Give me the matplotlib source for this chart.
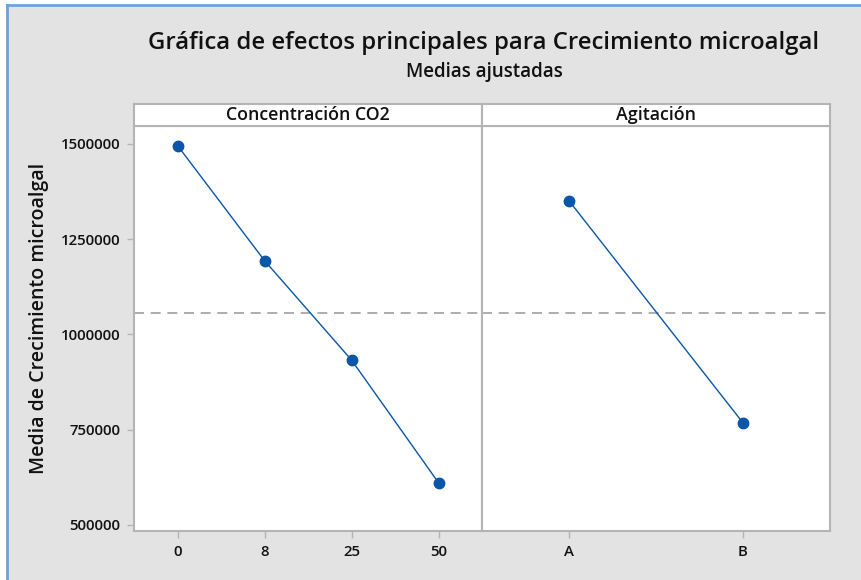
import matplotlib.pyplot as plt
from matplotlib.lines import Line2D
from matplotlib.patches import Rectangle

plt.rcParams['font.family'] = ['Open Sans', 'DejaVu Sans']

# data (fitted means)
co2_levels = ["0", "8", "25", "50"]
co2_means = [1496000, 1194000, 933000, 611000]
agit_levels = ["A", "B"]
agit_means = [1351000, 768000]
grand_mean = 1056000

yticks = [500000, 750000, 1000000, 1250000, 1500000]
ylim = (485000, 1548000)

title = "Gráfica de efectos principales para Crecimiento microalgal"
subtitle = "Medias ajustadas"
ylabel = "Media de Crecimiento microalgal"
panel_titles = ["Concentración CO2", "Agitación"]

blue = "#0a56a8"
spine_col = "#b4b4b4"
bg = "#e3e3e3"

W, H = 861, 580
fig = plt.figure(figsize=(W / 100, H / 100), dpi=100, facecolor="white")

# gray background with blue border on left and top
fig.patches.append(Rectangle((7 / W, 0), 1 - 7 / W, 1 - 5 / H, transform=fig.transFigure,
                             facecolor=bg, edgecolor="none", zorder=-10))
fig.lines.append(Line2D([7 / W, 7 / W], [0, 1 - 5 / H], transform=fig.transFigure,
                        color="#6fa3d8", lw=2, zorder=-5))
fig.lines.append(Line2D([7 / W, 1], [1 - 5 / H, 1 - 5 / H], transform=fig.transFigure,
                        color="#6fa3d8", lw=2, zorder=-5))

fig.text(484 / W, 1 - 43 / H, title, ha="center", va="center", fontsize=17.2,
         fontweight="semibold", color="#111111")
fig.text(484 / W, 1 - 72 / H, subtitle, ha="center", va="center", fontsize=13.5,
         fontweight="semibold", color="#111111")

left = 134 / W
pw = 348 / W
bottom = (H - 530.7) / H
ph = (530.7 - 125.7) / H
strip_h = 21.7 / H

panels = [(co2_levels, co2_means), (agit_levels, agit_means)]
for i, (levels, means) in enumerate(panels):
    x0 = left + i * pw
    ax = fig.add_axes([x0, bottom, pw, ph])
    ax.set_facecolor("white")
    pos = list(range(len(levels)))
    ax.plot(pos, means, color=blue, lw=1, marker="o", markersize=7.5,
            markerfacecolor=blue, markeredgecolor=blue)
    ax.axhline(grand_mean, color="#a0a0a0", lw=1.2, ls=(0, (6, 4)), zorder=0)
    ax.set_xlim(-0.5, len(levels) - 0.5)
    ax.set_ylim(*ylim)
    ax.set_xticks(pos)
    ax.set_xticklabels(levels)
    for s in ax.spines.values():
        s.set_color(spine_col)
        s.set_linewidth(1.5)
    ax.tick_params(axis="both", colors=spine_col, labelcolor="#111111", length=5,
                   width=1, labelsize=10.8, pad=5)
    for lab in ax.get_xticklabels():
        lab.set_fontweight("semibold")
    if i == 0:
        ax.set_yticks(yticks)
        ax.set_yticklabels([str(v) for v in yticks])
        for lab in ax.get_yticklabels():
            lab.set_fontweight("semibold")
        ax.set_ylabel(ylabel, fontsize=14, fontweight="semibold", color="#111111")
        ax.yaxis.set_label_coords(-0.245, 0.525)
    else:
        ax.set_yticks([])

    # header strip
    sax = fig.add_axes([x0, bottom + ph, pw, strip_h])
    sax.set_facecolor("white")
    sax.set_xticks([])
    sax.set_yticks([])
    for s in sax.spines.values():
        s.set_color(spine_col)
        s.set_linewidth(1.5)
    sax.text(0.5, 0.5, panel_titles[i], ha="center", va="center", fontsize=12.8,
             fontweight="semibold", color="#111111", transform=sax.transAxes)

fig.savefig("out.png", dpi=100, facecolor=fig.get_facecolor())
